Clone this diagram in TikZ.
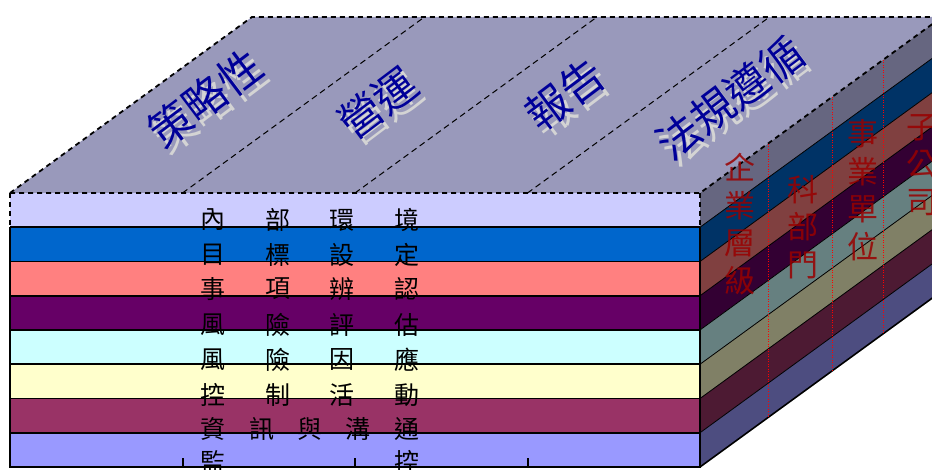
\documentclass[tikz,border=0pt]{standalone}
\usepackage{fontspec}
\newfontfamily\cjk{Noto Sans CJK TC}
\definecolor{topface}{HTML}{9999BB}
\definecolor{topblue}{HTML}{000099}
\definecolor{shadowgray}{HTML}{D4D4D4}
\definecolor{sidered}{HTML}{990000}
\definecolor{fA}{HTML}{CCCCFF}\definecolor{sA}{HTML}{666680}
\definecolor{fB}{HTML}{0066CC}\definecolor{sB}{HTML}{003366}
\definecolor{fC}{HTML}{FF8080}\definecolor{sC}{HTML}{804040}
\definecolor{fD}{HTML}{660066}\definecolor{sD}{HTML}{330033}
\definecolor{fE}{HTML}{CCFFFF}\definecolor{sE}{HTML}{668080}
\definecolor{fF}{HTML}{FFFFCC}\definecolor{sF}{HTML}{808066}
\definecolor{fG}{HTML}{993366}\definecolor{sG}{HTML}{4D1A33}
\definecolor{fH}{HTML}{9999FF}\definecolor{sH}{HTML}{4D4D80}
\tikzset{
  toplabel/.style={font=\cjk\fontsize{43}{43}\selectfont, text=topblue, rotate=37, inner sep=0pt},
  topshadow/.style={font=\cjk\fontsize{43}{43}\selectfont, text=shadowgray, rotate=37, inner sep=0pt},
  frontchar/.style={font=\cjk\fontsize{25}{25}\selectfont, text=black, inner sep=0pt},
  sidelabel/.style={font=\cjk\fontsize{31}{37.5}\selectfont, text=sidered, text opacity=0.85, align=center, inner sep=0pt},
  bigdash/.style={line width=1.8pt, dash pattern=on 5pt off 4pt},
  smalldash/.style={line width=1pt, dash pattern=on 6pt off 4pt},
  bandline/.style={line width=1.6pt},
  sideline/.style={line width=0.8pt},
  reddot/.style={red, line width=1pt, dash pattern=on 1pt off 1.5pt},
}
\begin{document}
\begin{tikzpicture}[x=1pt,y=-1pt]
\useasboundingbox (0,0) rectangle (932,470);
\clip (0,0) rectangle (932,470);
% corners
\coordinate (FTL) at (10,193);
\coordinate (FTR) at (700,193);
\coordinate (BTL) at (252,17);
\coordinate (BTR) at (942,17);
% top face
\fill[topface] (FTL) -- (BTL) -- (BTR) -- (FTR) -- cycle;
\foreach \x in {182.5,355,527.5} {
  \draw[smalldash] (\x,193) -- ++(242,-176);
}
% top labels
\node[topshadow] (s1) at (210,104) {策略性};
\node[toplabel] (t1) at (205,98) {策略性};
\node[topshadow] (s2) at (383,109) {營運};
\node[toplabel] (t2) at (378,103) {營運};
\node[topshadow] (s3) at (570,101) {報告};
\node[toplabel] (t3) at (565,95) {報告};
\node[topshadow] (s4) at (735,104) {法規遵循};
\node[toplabel] (t4) at (730,98) {法規遵循};
% front and side bands
\foreach \i/\fc/\sc in {0/fA/sA,1/fB/sB,2/fC/sC,3/fD/sD,4/fE/sE,5/fF/sF,6/fG/sG,7/fH/sH} {
  \pgfmathsetmacro{\ya}{193+34.25*\i}
  \pgfmathsetmacro{\yb}{193+34.25*(\i+1)}
  \fill[\fc] (10,\ya) rectangle (700,\yb);
  \fill[\sc] (700,\ya) -- ++(242,-176) -- (942,\yb-176) -- (700,\yb) -- cycle;
}
% band lines
\foreach \i in {1,...,7} {
  \pgfmathsetmacro{\ya}{193+34.25*\i}
  \draw[bandline] (10,\ya) -- (700,\ya);
  \draw[sideline] (700,\ya) -- ++(242,-176);
}
% outlines
\draw[bigdash] (FTL) -- (BTL) -- (BTR);
\draw[bigdash] (FTL) -- (FTR) -- (BTR);
\draw[bigdash] (FTL) -- (10,227.25);
\draw[bigdash] (FTR) -- (700,227.25);
\draw[bandline] (10,227.25) -- (10,467) -- (700,467) -- (700,227.25);
\draw[line width=1.6pt] (700,467) -- ++(242,-176);
\foreach \x in {183,355,528} {
  \draw[line width=1.6pt] (\x,458) -- (\x,467);
}
% red dotted lines on side
\foreach \x in {768,832,883} {
  \pgfmathsetmacro{\yt}{193-(\x-700)/242*176}
  \pgfmathsetmacro{\ybt}{467-(\x-700)/242*176}
  \draw[reddot] (\x,\yt) -- (\x,\ybt);
}
% side labels
\node[sidelabel] (e1) at (740,224) {企\\業\\層\\級};
\node[sidelabel] (e2) at (803,227) {科\\部\\門};
\node[sidelabel] (e3) at (863,190) {事\\業\\單\\位};
\node[sidelabel] (e4) at (922,165) {子\\公\\司};
% front labels
\foreach \r/\y/\a/\b/\c/\d in {1/220/內/部/環/境, 2/255/目/標/設/定, 3/289/事/項/辨/認, 4/325/風/險/評/估, 5/360/風/險/因/應, 6/395/控/制/活/動} {
  \node[frontchar] (r\r a) at (213,\y) {\a};
  \node[frontchar] (r\r b) at (278,\y) {\b};
  \node[frontchar] (r\r c) at (342,\y) {\c};
  \node[frontchar] (r\r d) at (407,\y) {\d};
}
\node[frontchar] (r7a) at (213,429) {資};
\node[frontchar] (r7b) at (262,429) {訊};
\node[frontchar] (r7c) at (310,429) {與};
\node[frontchar] (r7d) at (358,429) {溝};
\node[frontchar] (r7e) at (407,429) {通};
\node[frontchar] (r8a) at (213,462) {監};
\node[frontchar] (r8b) at (407,462) {控};
\end{tikzpicture}
\end{document}
